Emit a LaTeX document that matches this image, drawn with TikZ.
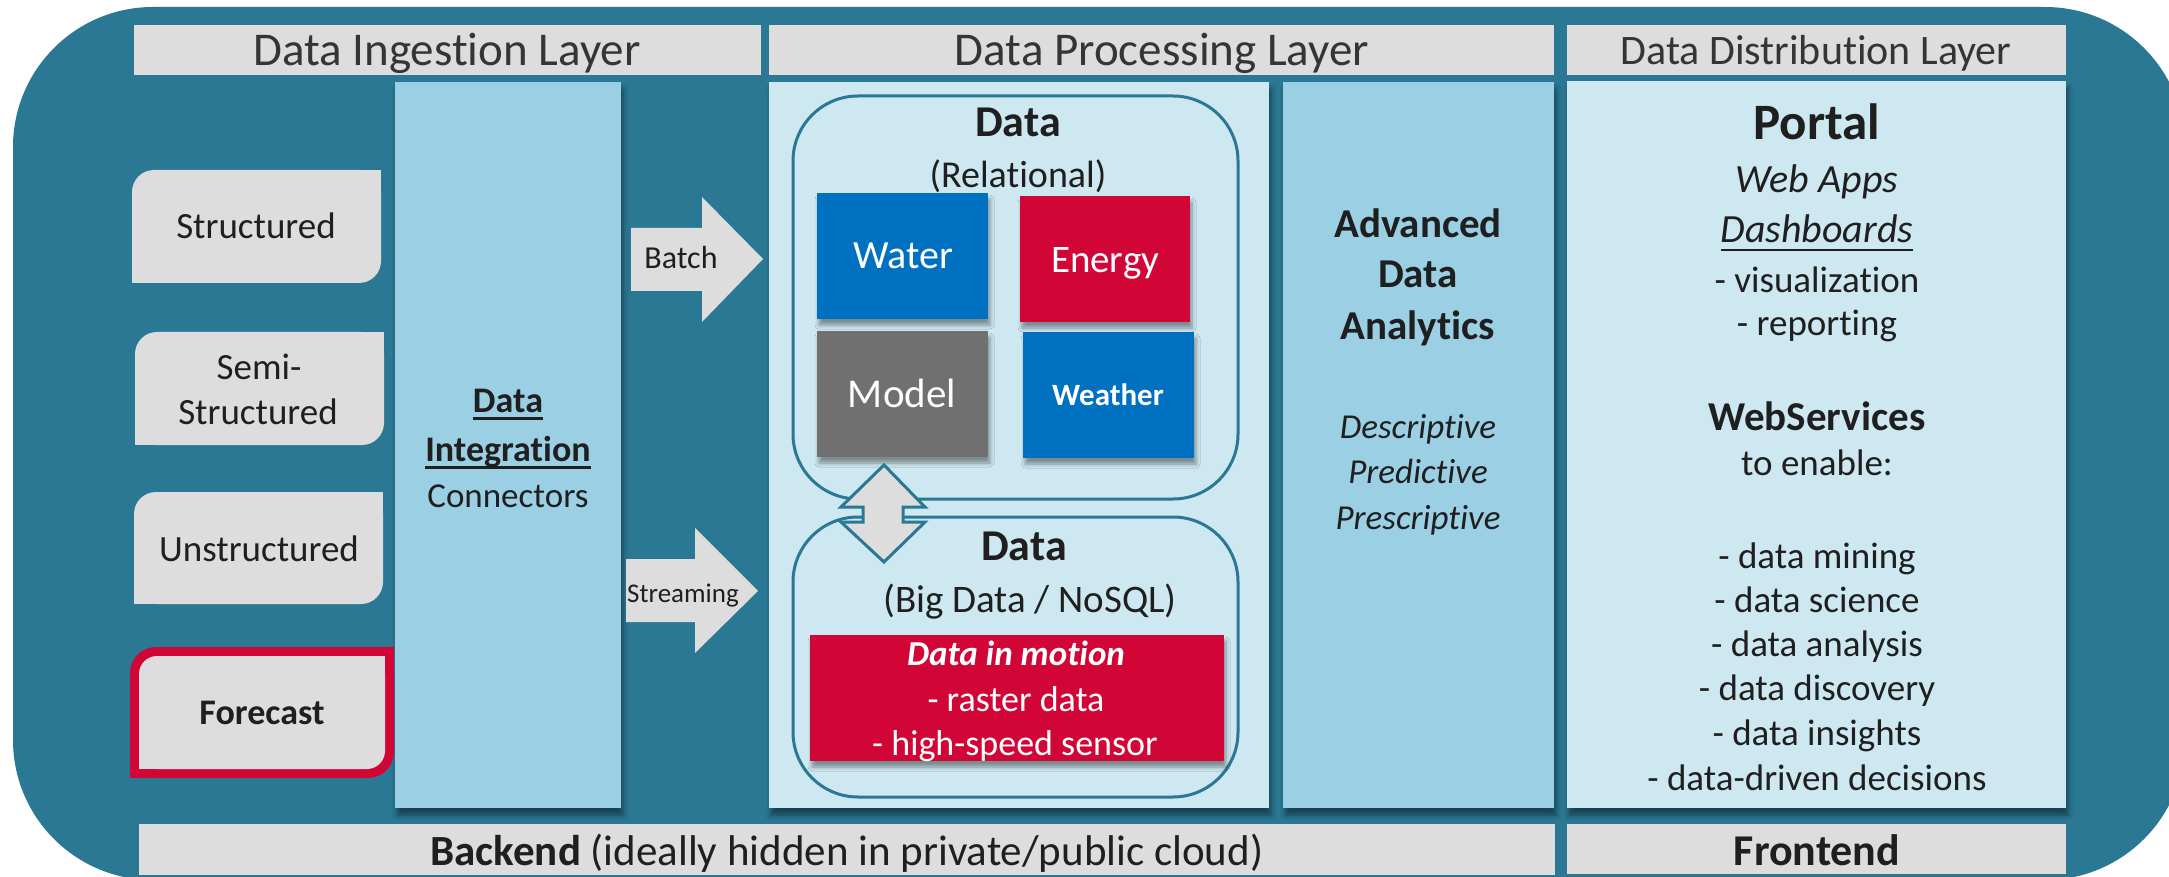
\documentclass[tikz,border=0pt]{standalone}
\usepackage{fontspec}
\setmainfont{Carlito}[Ligatures=NoCommon]
\usetikzlibrary{shadows.blur}

\definecolor{frame}{HTML}{2A7893}
\definecolor{panel}{HTML}{CDE8F1}
\definecolor{colmid}{HTML}{9BCFE3}
\definecolor{hdr}{HTML}{DDDDDD}
\definecolor{ink}{HTML}{1F1F1F}
\definecolor{tileblue}{HTML}{0070C0}
\definecolor{tilered}{HTML}{D20537}
\definecolor{tilegray}{HTML}{707070}

% font size in px-sized points
\newcommand\fsz[1]{\fontsize{#1}{#1}\selectfont}
% underline with a rule scaled to the font
\newcommand\undl[1]{\setbox0\hbox{#1}\leavevmode\rlap{\rule[-0.21em]{\wd0}{0.065em}}\box0}
% box with rounded top-left and bottom-right corners: colour, x1, y1, x2, y2, radius
\newcommand\diagfill[6]{%
  \fill[#1, rounded corners=#6pt] (#2,#3) rectangle (#4,#5);
  \fill[#1] (#4-#6,#3) rectangle (#4,#3+#6);
  \fill[#1] (#2,#5-#6) rectangle (#2+#6,#5);
}

\tikzset{
  lbl/.style={inner sep=0pt, anchor=base, text=ink},
  wlbl/.style={inner sep=0pt, anchor=base, text=white},
  shad/.style={blur shadow={shadow xshift=2pt, shadow yshift=-7pt,
      shadow blur radius=5pt, shadow opacity=45}},
  tshad/.style={blur shadow={shadow xshift=2pt, shadow yshift=-6pt,
      shadow blur radius=4pt, shadow opacity=40}},
}

\begin{document}
\begin{tikzpicture}[x=1pt,y=-1pt]
\useasboundingbox (0,0) rectangle (2169,877);
\fill[white] (0,0) rectangle (2169,877);

\begin{scope}
\clip (0,0) rectangle (2169,877);
% outer frame
\fill[frame, rounded corners=140pt] (13,7) rectangle (2185,880);

% layer headers
\fill[hdr] (134,25) rectangle (761,75);
\fill[hdr] (769,25) rectangle (1554,75);
\fill[hdr] (1567,25) rectangle (2066,75);

% columns
\fill[colmid, shad] (395,82) rectangle (621,808);
\fill[panel, shad] (769,82) rectangle (1269,808);
\fill[colmid, shad] (1283,82) rectangle (1554,808);
\fill[panel, shad] (1567,81) rectangle (2066,808);

% data sources
\diagfill{hdr}{132}{170}{381}{283}{22}
\diagfill{hdr}{135}{332}{384}{445}{22}
\diagfill{hdr}{134}{492}{383}{604}{22}
\diagfill{tilered}{130}{647}{394}{778}{26}
\diagfill{hdr}{139}{656}{385}{769}{18}

% block arrows
\fill[hdr] (631,228) -- (702,228) -- (702,197) -- (763,259) -- (702,322)
  -- (702,291) -- (631,291) -- cycle;
\fill[hdr] (626,559) -- (695,559) -- (695,528) -- (758,591) -- (695,653)
  -- (695,622) -- (626,622) -- cycle;

% data stores
\filldraw[fill=panel, draw=frame, line width=3pt, rounded corners=65pt]
  (793,96) rectangle (1238,499);
\filldraw[fill=panel, draw=frame, line width=3pt, rounded corners=65pt]
  (793,517) rectangle (1238,797);

% tiles
\fill[tileblue, tshad] (817,193) rectangle (988,319);
\fill[tilered, tshad] (1020,196) rectangle (1190,322);
\fill[tilegray, tshad] (817,331) rectangle (988,457);
\fill[tileblue, tshad] (1023,332) rectangle (1194,458);
\fill[tilered, tshad] (810,635) rectangle (1224,761);

% exchange arrow between the stores
\filldraw[fill=hdr, draw=frame, line width=3pt, line join=miter]
  (884,465) -- (925,507) -- (903,507) -- (903,522) -- (925,522) -- (884,562)
  -- (841,522) -- (863,522) -- (863,507) -- (841,507) -- cycle;

% bottom bars
\fill[hdr] (139,824) rectangle (1555,875);
\fill[hdr] (1567,824) rectangle (2066,874);
\end{scope}

% header labels
\node[lbl, font=\fsz{47}, text=ink!90] (hing) at (447,66) {Data Ingestion Layer};
\node[lbl, font=\fsz{47}, text=ink!90] (hproc) at (1162,66) {Data Processing Layer};
\node[lbl, font=\fsz{42}, text=ink!90] (hdist) at (1816,65) {Data Distribution Layer};

% sources
\node[lbl, font=\fsz{37}] (src1) at (256,239) {Structured};
\node[lbl, font=\fsz{37}] (src2a) at (259,379) {Semi-};
\node[lbl, font=\fsz{37}] (src2b) at (258,424) {Structured};
\node[lbl, font=\fsz{37}] (src3) at (259,561) {Unstructured};
\node[lbl, font=\fsz{36}\bfseries] (src4) at (262,724) {Forecast};

% integration
\node[lbl, font=\fsz{36}\bfseries] (int1) at (508,412) {\undl{Data}};
\node[lbl, font=\fsz{36}\bfseries] (int2) at (508,461) {\undl{Integration}};
\node[lbl, font=\fsz{35}] (int3) at (508,507) {Connectors};

% arrow labels
\node[lbl, font=\fsz{32}] (batch) at (681,269) {Batch};
\node[lbl, font=\fsz{27}] (stream) at (683,602) {Streaming};

% relational store
\node[lbl, font=\fsz{44}\bfseries] (rel1) at (1018,137) {Data};
\node[lbl, font=\fsz{38}] (rel2) at (1018,188) {(Relational)};
\node[wlbl, font=\fsz{40}] (water) at (903,269) {Water};
\node[wlbl, font=\fsz{39}] (energy) at (1105,273) {Energy};
\node[wlbl, font=\fsz{41}] (model) at (902,407) {Model};
\node[wlbl, font=\fsz{31}\bfseries] (weather) at (1108,405) {Weather};

% big data store
\node[lbl, font=\fsz{44}\bfseries] (big1) at (1024,560) {Data};
\node[lbl, font=\fsz{39}] (big2) at (1030,612) {(Big Data / NoSQL)};
\node[wlbl, font=\fsz{35}\bfseries\itshape] (mot1) at (1016,665) {Data in motion};
\node[wlbl, font=\fsz{36}] (mot2) at (1016,711) {- raster data};
\node[wlbl, font=\fsz{36}] (mot3) at (1015,755) {- high-speed sensor};

% analytics
\node[lbl, font=\fsz{41}\bfseries] (ana1) at (1418,238) {Advanced};
\node[lbl, font=\fsz{41}\bfseries] (ana2) at (1418,288) {Data};
\node[lbl, font=\fsz{41}\bfseries] (ana3) at (1418,340) {Analytics};
\node[lbl, font=\fsz{35}\itshape] (ana4) at (1418,438) {Descriptive};
\node[lbl, font=\fsz{35}\itshape] (ana5) at (1418,483) {Predictive};
\node[lbl, font=\fsz{35}\itshape] (ana6) at (1418,529) {Prescriptive};

% distribution
\node[lbl, font=\fsz{51}\bfseries] (portal) at (1817,140) {Portal};
\node[lbl, font=\fsz{40}\itshape] (webapps) at (1817,193) {Web Apps};
\node[lbl, font=\fsz{40}\itshape] (dash) at (1817,243) {\undl{Dashboards}};
\node[lbl, font=\fsz{37}] (vis) at (1817,293) {- visualization};
\node[lbl, font=\fsz{37}] (rep) at (1817,335) {- reporting};
\node[lbl, font=\fsz{41}\bfseries] (ws) at (1817,430) {WebServices};
\node[lbl, font=\fsz{37}] (enable) at (1817,475) {to enable:};
\node[lbl, font=\fsz{37}] (u1) at (1817,568) {- data mining};
\node[lbl, font=\fsz{37}] (u2) at (1817,612) {- data science};
\node[lbl, font=\fsz{37}] (u3) at (1817,656) {- data analysis};
\node[lbl, font=\fsz{37}] (u4) at (1817,700) {- data discovery};
\node[lbl, font=\fsz{37}] (u5) at (1817,745) {- data insights};
\node[lbl, font=\fsz{37}] (u6) at (1817,790) {- data-driven decisions};

% bottom labels
\node[lbl, font=\fsz{43}] (backend) at (847,865) {\textbf{Backend} (ideally hidden in private/public cloud)};
\node[lbl, font=\fsz{44}\bfseries] (frontend) at (1817,865) {Frontend};
\end{tikzpicture}
\end{document}
